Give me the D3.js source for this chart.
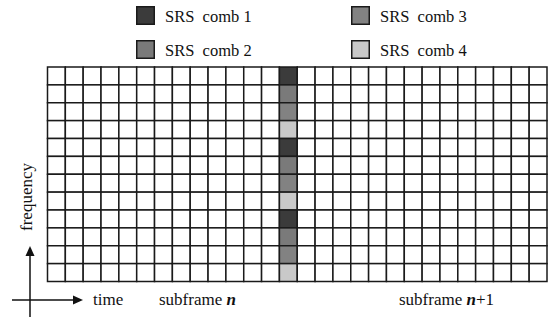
<!DOCTYPE html>
<html>
<head>
<meta charset="utf-8">
<script src="https://cdn.jsdelivr.net/npm/d3@7"></script>
<style>
  body { margin: 0; background: #fff; }
</style>
</head>
<body>
<svg id="chart" width="549" height="317"></svg>
<script>
// legend entries and their greys
const combNames = ["SRS  comb 1", "SRS  comb 2", "SRS  comb 3", "SRS  comb 4"];
const combColors = ["#3b3b3b", "#7a7a7a", "#828282", "#c9c9c9"];
// which comb sits in each row of the SRS symbol (top to bottom)
const rowComb = [0, 1, 2, 3, 0, 1, 2, 3, 0, 1, 2, 3];
// 28 OFDM symbols across two subframes, SRS in the 14th
const symbols = d3.range(28);
const srsSymbol = 13;
const subframeLabels = [
    { text: "subframe ", italic: "n", tail: "", x: 159 },
    { text: "subframe ", italic: "n", tail: "+1", x: 399 }
];

const fontName = "Liberation Serif";

const svg = d3.select("#chart");

const grid = { left: 47.5, right: 547, top: 67, bottom: 281.5 };

const x = d3.scaleBand()
    .domain(symbols)
    .range([grid.left, grid.right]);

const y = d3.scaleBand()
    .domain(d3.range(rowComb.length))
    .range([grid.top, grid.bottom]);

// cells
const cells = [];
symbols.forEach(c => {
    rowComb.forEach((comb, r) => {
        cells.push({ col: c, row: r, comb: c === srsSymbol ? comb : null });
    });
});

svg.append("g")
    .selectAll("rect")
    .data(cells)
    .enter()
    .append("rect")
    .attr("x", d => x(d.col))
    .attr("y", d => y(d.row))
    .attr("width", x.bandwidth())
    .attr("height", y.bandwidth())
    .attr("fill", d => d.comb === null ? "#fff" : combColors[d.comb])
    .attr("stroke", "#1a1a1a")
    .attr("stroke-width", 1.5);

// legend
const legendX = d3.scaleOrdinal().domain([0, 1]).range([136, 351]);
const legendY = d3.scaleOrdinal().domain([0, 1]).range([6, 40]);

const legend = svg.append("g")
    .selectAll("g")
    .data(combNames)
    .enter()
    .append("g")
    .attr("transform", (d, i) => `translate(${legendX(Math.floor(i / 2))},${legendY(i % 2)})`);

legend.append("rect")
    .attr("x", 0.75)
    .attr("y", 0.75)
    .attr("width", 17.5)
    .attr("height", 17.5)
    .attr("fill", (d, i) => combColors[i])
    .attr("stroke", "#1a1a1a")
    .attr("stroke-width", 1.5);

legend.append("text")
    .attr("x", 29)
    .attr("y", 16)
    .attr("font-family", fontName)
    .attr("font-size", 16.5)
    .attr("fill", "#111")
    .text(d => d.replace("  ", "\u00a0 "));

// axis arrows
svg.append("line")
    .attr("x1", 30).attr("y1", 317)
    .attr("x2", 30).attr("y2", 254)
    .attr("stroke", "#111").attr("stroke-width", 1.5);
svg.append("path")
    .attr("d", "M30,246 L25.5,256 L34.5,256 Z")
    .attr("fill", "#111");

svg.append("line")
    .attr("x1", 12).attr("y1", 300)
    .attr("x2", 75).attr("y2", 300)
    .attr("stroke", "#111").attr("stroke-width", 1.5);
svg.append("path")
    .attr("d", "M83,300 L73,295.5 L73,304.5 Z")
    .attr("fill", "#111");

svg.append("text")
    .attr("x", 93)
    .attr("y", 305)
    .attr("font-family", fontName)
    .attr("font-size", 17)
    .attr("fill", "#111")
    .text("time");

svg.append("text")
    .attr("transform", "translate(32,197) rotate(-90)")
    .attr("text-anchor", "middle")
    .attr("font-family", fontName)
    .attr("font-size", 17)
    .attr("fill", "#111")
    .text("frequency");

const sub = svg.append("g")
    .selectAll("text")
    .data(subframeLabels)
    .enter()
    .append("text")
    .attr("x", d => d.x)
    .attr("y", 305)
    .attr("font-family", fontName)
    .attr("font-size", 17)
    .attr("fill", "#111");

sub.append("tspan").text(d => d.text);
sub.append("tspan")
    .attr("font-style", "italic")
    .attr("font-weight", "bold")
    .text(d => d.italic);
sub.append("tspan").text(d => d.tail);
</script>
</body>
</html>
